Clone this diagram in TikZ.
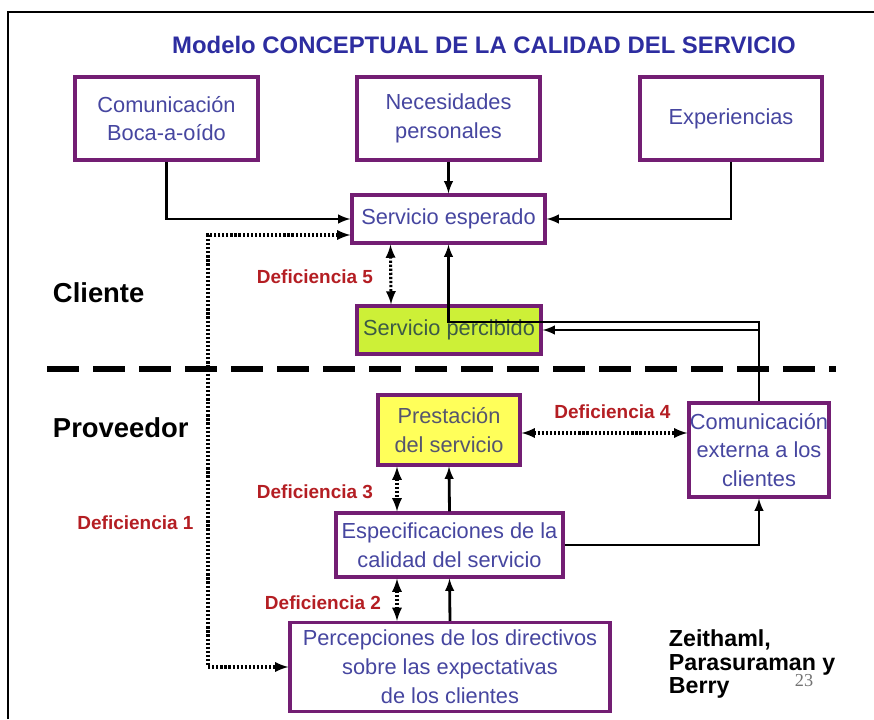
\documentclass[tikz,border=0pt]{standalone}
\usepackage{fontspec}
\setmainfont{Liberation Sans}
\newfontfamily\numfont{Liberation Serif}
\usetikzlibrary{arrows}
\definecolor{boxline}{RGB}{115,30,115}
\definecolor{boxtext}{RGB}{70,70,160}
\definecolor{titleblue}{RGB}{45,45,160}
\definecolor{gapred}{RGB}{180,30,35}
\definecolor{limefill}{RGB}{205,240,55}
\definecolor{limetext}{RGB}{60,90,70}
\definecolor{yellowfill}{RGB}{255,255,90}
\definecolor{graytext}{RGB}{85,85,110}

\begin{document}
\begin{tikzpicture}[
  caja/.style={draw=boxline, line width=2.2pt, fill=white, text=boxtext,
               align=center, inner sep=0pt, font=\fontsize{15.5}{20.5}\selectfont},
  flecha/.style={-latex, line width=2pt},
  hueco/.style={latex-latex, line width=2.2pt, dash pattern=on 1.6pt off 1.3pt},
  brecha/.style={text=gapred, font=\bfseries\fontsize{13.5}{16}\selectfont},
  lado/.style={anchor=west, font=\bfseries\fontsize{19.5}{22}\selectfont}
]
\useasboundingbox (0,0) rectangle (21.85,-17.975);

% frame
\draw[line width=1.4pt] (0.2,-17.975) -- (0.2,-0.3) -- (21.85,-0.3);

\node (titulo) at (12.1,-1.125) [text=titleblue, font=\bfseries\fontsize{17}{20}\selectfont]
  {Modelo CONCEPTUAL DE LA CALIDAD DEL SERVICIO};

% cliente
\node (boca)   at (4.1625,-2.9625) [caja, minimum width=4.575cm, minimum height=2.075cm] {Comunicación\\Boca-a-oído};
\node (neces)  at (11.2125,-2.9625) [caja, minimum width=4.575cm, minimum height=2.075cm] {Necesidades\\personales};
\node (exper)  at (18.275,-2.9625) [caja, minimum width=4.55cm, minimum height=2.075cm] {Experiencias};
\node (esperado)  at (11.2125,-5.475) [caja, minimum width=4.825cm, minimum height=1.2cm] {Servicio esperado};
\node (percibido) at (11.225,-8.25) [caja, fill=limefill, text=limetext, minimum width=4.6cm, minimum height=1.2cm] {Servicio percibido};

% proveedor
\node (prestacion) at (11.225,-10.75) [caja, fill=yellowfill, text=graytext, minimum width=3.55cm, minimum height=1.75cm] {Prestación\\del servicio};
\node (externa)    at (18.975,-11.25) [caja, minimum width=3.5cm, minimum height=2.35cm] {Comunicación\\externa a los\\clientes};
\node (espec)      at (11.2375,-13.625) [caja, minimum width=5.675cm, minimum height=1.6cm] {Especificaciones de la\\calidad del servicio};
\node (percep)     at (11.25,-16.675) [caja, minimum width=8cm, minimum height=2.225cm] {Percepciones de los directivos\\sobre las expectativas\\de los clientes};

% separation
\draw[line width=4.3pt, dash pattern=on 0.8cm off 0.35cm] (1.175,-9.225) -- (20.9,-9.225);

\node (cliente)   at (1.2,-7.325) [lado] {Cliente};
\node (proveedor) at (1.2,-10.7) [lado] {Proveedor};

\node (def5) at (9.45,-6.925) [brecha, anchor=east] {Deficiencia 5};
\node (def4) at (15.3125,-10.3) [brecha] {Deficiencia 4};
\node (def3) at (9.45,-12.3) [brecha, anchor=east] {Deficiencia 3};
\node (def1) at (3.3875,-13.075) [brecha] {Deficiencia 1};
\node (def2) at (9.65,-15.075) [brecha, anchor=east] {Deficiencia 2};

\node (autores) at (16.6,-16.6) [anchor=west, align=left, font=\bfseries\fontsize{16.5}{17}\selectfont]
  {Zeithaml,\\Parasuraman y\\Berry};
\node (pagina) at (20.1,-17.025) [text=black!55, font=\numfont\fontsize{13}{14}\selectfont] {23};

% solid arrows
\draw[flecha] (boca.south) |- (esperado.west);
\draw[flecha] (neces.south) -- (esperado.north);
\draw[flecha] (exper.south) |- (esperado.east);
\coordinate (giro) at (18.975,-8.05);
\draw[flecha] (externa.north) -- (giro) -| (esperado.south);
\draw[flecha] (externa.north |- percibido.east) -- (percibido.east);
\draw[flecha] (espec.north) -- (prestacion.south);
\draw[flecha] (percep.north) -- (espec.south);
\draw[flecha] (espec.east) -| (externa.south);

% gaps
\coordinate (esquina) at (5.2,-10);
\draw[hueco] ([yshift=-0.4cm]esperado.west) -| (esquina) |- (percep.west);
\draw[hueco] ([xshift=-1.45cm]esperado.south) -- ([xshift=-1.45cm]percibido.north);
\draw[hueco] ([yshift=-0.075cm]prestacion.east) -- ([yshift=-0.075cm]externa.west |- prestacion.east);
\draw[hueco] ([xshift=-1.3cm]prestacion.south) -- ([xshift=-1.3cm]prestacion.south |- espec.north);
\draw[hueco] ([xshift=-1.3cm]prestacion.south |- espec.south) -- ([xshift=-1.3cm]prestacion.south |- percep.north);
\end{tikzpicture}
\end{document}
